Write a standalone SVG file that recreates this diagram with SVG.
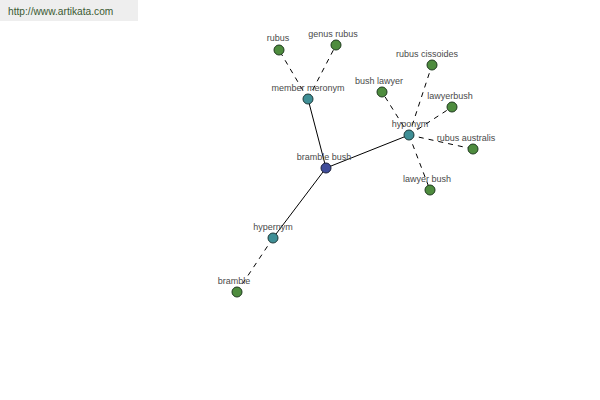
<svg xmlns="http://www.w3.org/2000/svg" width="600" height="400" viewBox="0 0 600 400">
<style>
.lbl{font-family:"Liberation Sans",Arial,sans-serif;font-size:9px;fill:#4a4a4a;text-anchor:middle}
.solid{stroke:#000;stroke-width:1;fill:none}
.dash{stroke:#000;stroke-width:1;fill:none;stroke-dasharray:5,5}
.leaf{fill:#4e8c3e;stroke:#1e3a1e;stroke-width:1}
.rel{fill:#3f8f96;stroke:#1e3a3a;stroke-width:1}
.root{fill:#3f4c9a;stroke:#1a1f3a;stroke-width:1}
</style>
<rect width="600" height="400" fill="#fff"/>
<g id="watermark">
<rect x="0" y="0" width="138" height="21" fill="#eeeeee"/>
<text x="8" y="15" style="font-family:'Liberation Sans',Arial,sans-serif;font-size:10.2px;fill:#3b5a32">http://www.artikata.com</text>
</g>
<g id="connectors">
<line class="solid" x1="326" y1="168" x2="308" y2="99"/>
<line class="solid" x1="326" y1="168" x2="409" y2="135"/>
<line class="solid" x1="326" y1="168" x2="273" y2="238"/>
<line class="dash" x1="308" y1="99" x2="279" y2="50"/>
<line class="dash" x1="308" y1="99" x2="336" y2="45"/>
<line class="dash" x1="273" y1="238" x2="237" y2="292"/>
<line class="dash" x1="409" y1="135" x2="432" y2="65"/>
<line class="dash" x1="409" y1="135" x2="382" y2="92"/>
<line class="dash" x1="409" y1="135" x2="452" y2="107"/>
<line class="dash" x1="409" y1="135" x2="473" y2="149"/>
<line class="dash" x1="409" y1="135" x2="430" y2="190"/>
</g>
<g id="n-bramble-bush"><circle class="root" cx="326" cy="168" r="5"/><text class="lbl" x="324" y="160">bramble bush</text></g>
<g id="n-member-meronym"><circle class="rel" cx="308" cy="99" r="5"/><text class="lbl" x="308" y="91">member meronym</text></g>
<g id="n-hyponym"><circle class="rel" cx="409" cy="135" r="5"/><text class="lbl" x="410" y="127">hyponym</text></g>
<g id="n-hypernym"><circle class="rel" cx="273" cy="238" r="5"/><text class="lbl" x="273" y="230">hypernym</text></g>
<g id="n-rubus"><circle class="leaf" cx="279" cy="50" r="5"/><text class="lbl" x="278" y="41">rubus</text></g>
<g id="n-genus-rubus"><circle class="leaf" cx="336" cy="45" r="5"/><text class="lbl" x="333" y="37">genus rubus</text></g>
<g id="n-bramble"><circle class="leaf" cx="237" cy="292" r="5"/><text class="lbl" x="234" y="284">bramble</text></g>
<g id="n-rubus-cissoides"><circle class="leaf" cx="432" cy="65" r="5"/><text class="lbl" x="427" y="57">rubus cissoides</text></g>
<g id="n-bush-lawyer"><circle class="leaf" cx="382" cy="92" r="5"/><text class="lbl" x="379" y="84">bush lawyer</text></g>
<g id="n-lawyerbush"><circle class="leaf" cx="452" cy="107" r="5"/><text class="lbl" x="450" y="99">lawyerbush</text></g>
<g id="n-rubus-australis"><circle class="leaf" cx="473" cy="149" r="5"/><text class="lbl" x="466" y="141">rubus australis</text></g>
<g id="n-lawyer-bush"><circle class="leaf" cx="430" cy="190" r="5"/><text class="lbl" x="427" y="182">lawyer bush</text></g>
</svg>
